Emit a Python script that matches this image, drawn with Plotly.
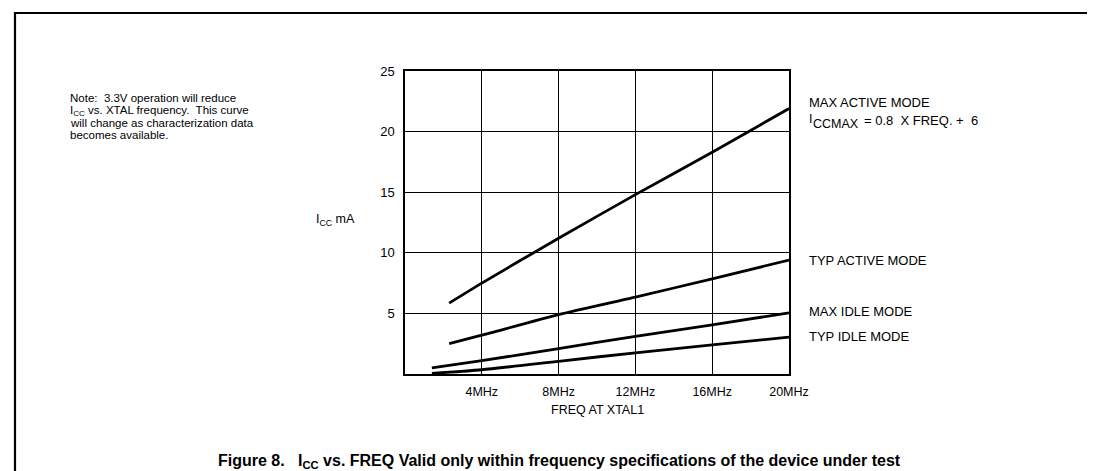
import plotly.graph_objects as go

# ---- data ----
max_active_f = [2.3, 4, 8, 12, 16, 20]
max_active_i = [5.85, 7.5, 11.2, 14.8, 18.3, 21.9]
typ_active_f = [2.3, 4, 8, 12, 16, 20]
typ_active_i = [2.5, 3.2, 4.9, 6.35, 7.85, 9.4]
max_idle_f = [1.4, 4, 8, 12, 16, 20]
max_idle_i = [0.5, 1.1, 2.1, 3.1, 4.05, 5.05]
typ_idle_f = [1.4, 4, 8, 12, 16, 20]
typ_idle_i = [0.05, 0.35, 1.05, 1.75, 2.4, 3.05]

x_tickvals = [4, 8, 12, 16, 20]
x_ticktext = ["4MHz", "8MHz", "12MHz", "16MHz", "20MHz"]
y_tickvals = [5, 10, 15, 20, 25]
y_ticktext = ["5", "10", "15", "20", "25"]

series_labels = ["MAX ACTIVE MODE", "TYP ACTIVE MODE", "MAX IDLE MODE", "TYP IDLE MODE"]
note_lines = [
    "Note:  3.3V operation will reduce",
    "I<sub>CC</sub> vs. XTAL frequency.  This curve",
    "will change as characterization data",
    "becomes available.",
]

# ---- layout geometry (pixels) ----
W, H = 1095, 471
L, R, T, B = 397, 781, 63, 366
PW, PH = R - L, B - T


def px(x):
    return (x - L) / PW


def py(y):
    return (B - y) / PH


FONT = "Liberation Sans, Arial, Helvetica, sans-serif"

fig = go.Figure()
for f, i, name in [
    (max_active_f, max_active_i, series_labels[0]),
    (typ_active_f, typ_active_i, series_labels[1]),
    (max_idle_f, max_idle_i, series_labels[2]),
    (typ_idle_f, typ_idle_i, series_labels[3]),
]:
    fig.add_trace(go.Scatter(
        x=f, y=i, mode="lines", name=name,
        line=dict(color="black", width=2.8, shape="spline", smoothing=0.6),
        showlegend=False, hoverinfo="skip",
    ))

fig.update_layout(
    width=W, height=H, autosize=False,
    margin=dict(l=L, r=W - R, t=T, b=H - B, pad=0),
    paper_bgcolor="white", plot_bgcolor="white",
    font=dict(family=FONT, color="black", size=12.5),
    xaxis=dict(
        range=[0, 20], tickvals=x_tickvals, ticktext=x_ticktext,
        showgrid=True, gridcolor="black", gridwidth=1.3,
        showline=True, linecolor="black", linewidth=1.5, mirror=True,
        ticks="outside", ticklen=5, tickcolor="rgba(0,0,0,0)",
        tickfont=dict(size=12.5), zeroline=False, automargin=False,
    ),
    yaxis=dict(
        range=[0, 25], tickvals=y_tickvals, ticktext=y_ticktext,
        showgrid=True, gridcolor="black", gridwidth=1.3,
        showline=True, linecolor="black", linewidth=1.5, mirror=True,
        ticks="outside", ticklen=6, tickcolor="rgba(0,0,0,0)",
        tickfont=dict(size=13), zeroline=False, automargin=False,
    ),
)


def label(x, y, text, size=13, xanchor="left", bold=False):
    if bold:
        text = f"<b>{text}</b>"
    return dict(x=px(x), y=py(y), xref="paper", yref="paper", text=text,
                showarrow=False, xanchor=xanchor, yanchor="middle",
                font=dict(size=size))


ann = []
# axis titles
ann.append(label(349, 212, "I<sub>CC</sub> mA", size=12.5, xanchor="right"))
ann.append(label(589.5, 402, "FREQ AT XTAL1", size=12.5, xanchor="center"))
# right-side series labels
ann.append(label(799, 95, series_labels[0]))
ann.append(label(799, 111, "I", size=12.5))
ann.append(label(803, 116, "CCMAX", size=12.5))
ann.append(label(854, 112.5, "= 0.8  X FREQ. +  6", size=13))
ann.append(label(799, 252, series_labels[1]))
ann.append(label(799, 303, series_labels[2]))
ann.append(label(799, 328, series_labels[3]))
# note
for yy, line in zip([90, 102.5, 115, 127.5], note_lines):
    ann.append(label(60, yy, line, size=11.5))
# caption
ann.append(label(551, 453,
                 "Figure 8.   I<sub>CC</sub> vs. FREQ Valid only within "
                 "frequency specifications of the device under test",
                 size=16, xanchor="center", bold=True))
fig.update_layout(annotations=ann)

# outer frame (open at the bottom)
fig.add_shape(type="path", xref="paper", yref="paper",
              path=(f"M {px(7)} {py(475)} L {px(7)} {py(5)} "
                    f"L {px(1092)} {py(5)} L {px(1092)} {py(475)}"),
              line=dict(color="black", width=2.2))

fig.write_html("out.html")
